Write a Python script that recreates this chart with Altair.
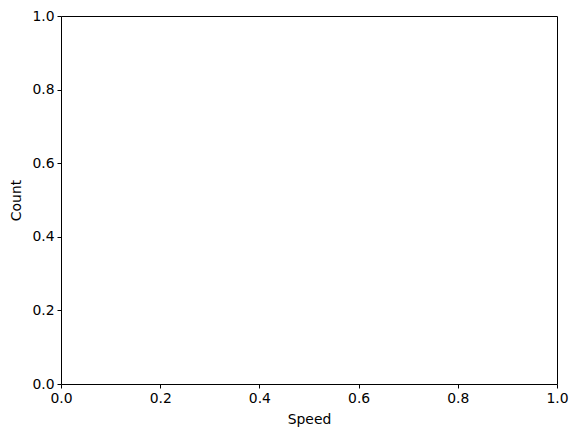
import pandas as pd
import altair as alt

# the reference axes are empty: no observations plotted
speed = []
count = []
x_ticks = [0.0, 0.2, 0.4, 0.6, 0.8, 1.0]
y_ticks = [0.0, 0.2, 0.4, 0.6, 0.8, 1.0]

df = pd.DataFrame({"Speed": pd.Series(speed, dtype=float), "Count": pd.Series(count, dtype=float)})

font = "DejaVu Sans"

chart = (
    alt.Chart(df)
    .mark_point(filled=True, color="#1f77b4")
    .encode(
        x=alt.X(
            "Speed:Q",
            scale=alt.Scale(domain=[0, 1], nice=False, zero=False),
            axis=alt.Axis(title="Speed", values=x_ticks, format=".1f"),
        ),
        y=alt.Y(
            "Count:Q",
            scale=alt.Scale(domain=[0, 1], nice=False, zero=False),
            axis=alt.Axis(title="Count", values=y_ticks, format=".1f"),
        ),
    )
    .properties(
        width=496,
        height=368,
        autosize=alt.AutoSizeParams(type="none"),
        padding={"left": 53, "top": 8, "right": 13, "bottom": 46},
    )
    .configure_view(stroke="black", strokeWidth=1)
    .configure_axis(
        grid=False,
        domain=False,
        tickColor="black",
        tickSize=4,
        tickWidth=1,
        labelFlush=False,
        labelOverlap=False,
        labelFont=font,
        labelFontSize=13.9,
        labelColor="black",
        titleFont=font,
        titleFontSize=13.9,
        titleColor="black",
        titleFontWeight="normal",
        labelPadding=3,
    )
    .configure_axisX(titlePadding=8)
    .configure_axisY(titlePadding=8)
)

chart.save("out.html", embed_options={"renderer": "svg", "actions": False})
